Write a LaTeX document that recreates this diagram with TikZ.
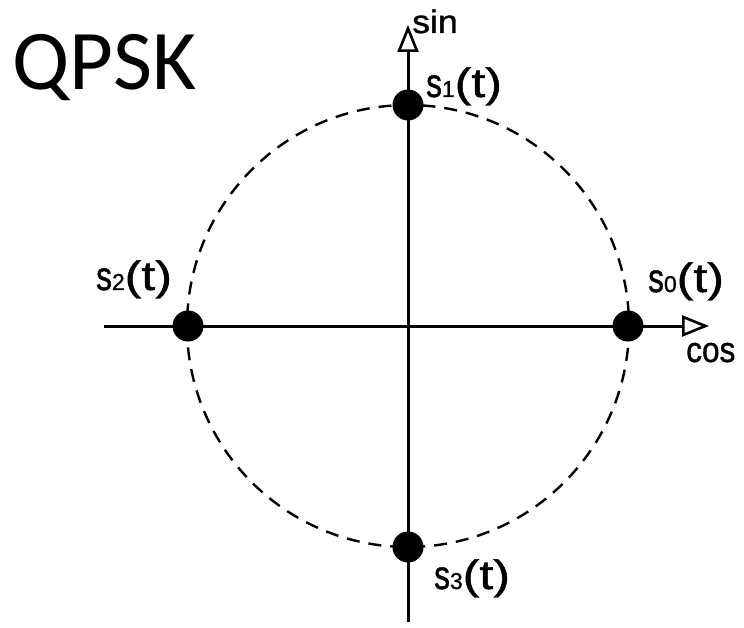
\documentclass[tikz,border=0pt]{standalone}
\usepackage{fontspec}
\usepackage{graphicx}
\usetikzlibrary{arrows.meta}
\newfontfamily\labfont[RawFeature={embolden=1.0}]{Liberation Sans}
\newfontfamily\qfont{Carlito}
\newcommand\slab[1]{{\fontsize{30}{30}\selectfont\scalebox{1.05}[1.35]{s}}{\fontsize{23}{23}\selectfont #1}{\fontsize{41}{41}\selectfont\scalebox{1.22}[1]{(t)}}}
\tikzset{
  axis/.style={line width=3pt, -{Triangle[open, length=27pt, width=21pt, line width=2.6pt]}},
  dot/.style={circle, fill=black, inner sep=0pt, minimum size=31pt},
  lab/.style={anchor=base west, inner sep=0pt, font=\labfont},
  ring/.style={line width=2.4pt, dash pattern=on 13pt off 9pt},
}
\begin{document}
\begin{tikzpicture}[x=1pt,y=-1pt]
\useasboundingbox (0,0) rectangle (744,628);
\coordinate (o) at (408,326);
\coordinate (xl) at (104,326);
\coordinate (xr) at (709,326);
\coordinate (yb) at (408,622);
\coordinate (yt) at (408,25);
\draw[ring] (o) circle[radius=221];
\draw[axis] (xl) -- (xr);
\draw[axis] (yb) -- (yt);
\node[dot] (s0) at (628,326) {};
\node[dot] (s1) at (408,105) {};
\node[dot] (s2) at (188,326) {};
\node[dot] (s3) at (408,547) {};
\node[lab] (l0) at (648,292) {\slab{0}};
\node[lab] (l1) at (426,97) {\slab{1}};
\node[lab] (l2) at (96,290) {\slab{2}};
\node[lab] (l3) at (434,589) {\slab{3}};
\node[lab] (cos) at (686,362) {\fontsize{31}{31}\selectfont\scalebox{1.02}[1.15]{cos}};
\node[lab] (sin) at (412,33) {\fontsize{31}{31}\selectfont\scalebox{1.15}[1.05]{sin}};
\node[anchor=base west, inner sep=0pt, font=\qfont] (title) at (12,90) {\fontsize{85}{85}\selectfont QPSK};
\end{tikzpicture}
\end{document}
